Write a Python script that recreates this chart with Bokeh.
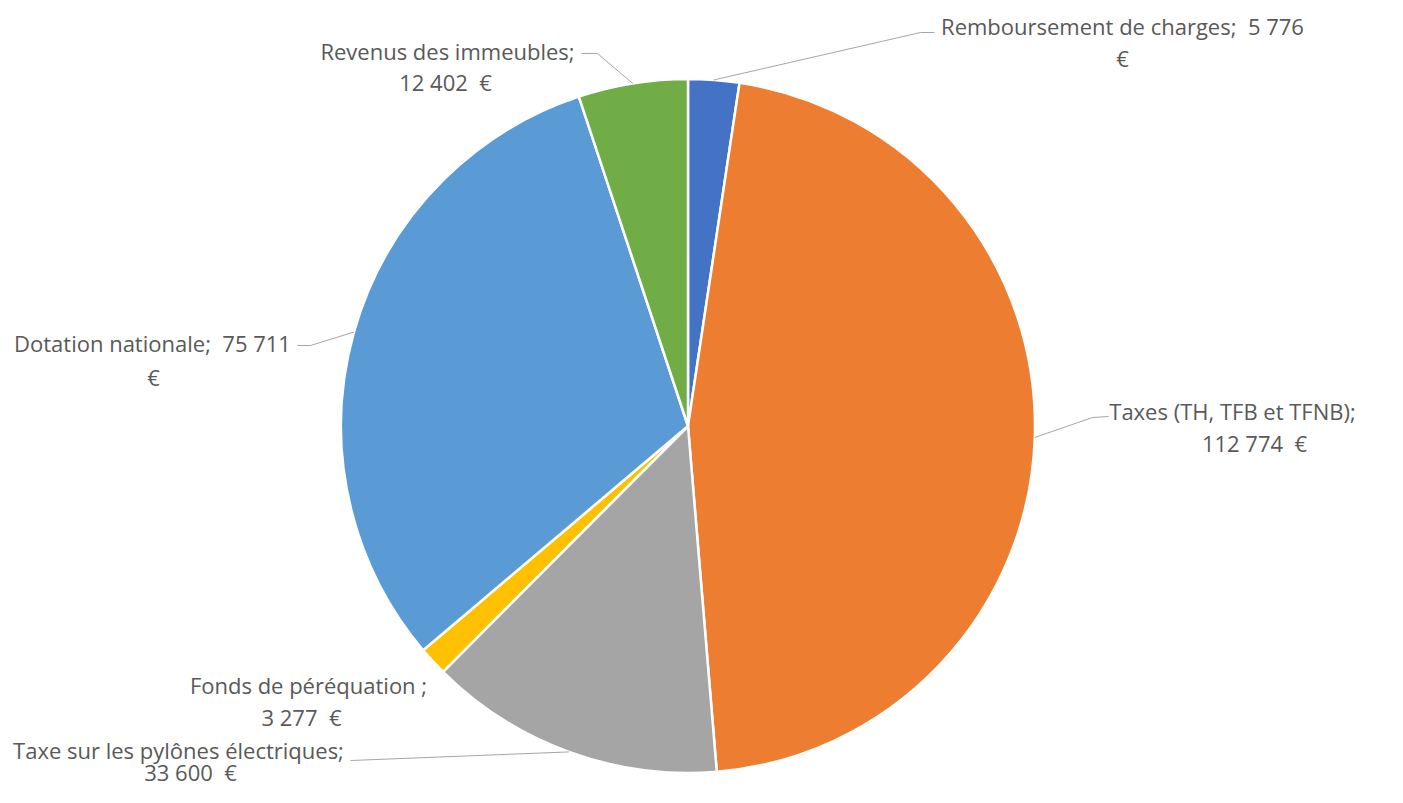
import numpy as np
from bokeh.plotting import figure
from bokeh.models import Range1d, ColumnDataSource
from bokeh.core.properties import value
from bokeh.embed import file_html
from bokeh.resources import INLINE

# ---- data ----
categories = ["Remboursement de charges", "Taxes (TH, TFB et TFNB)",
              "Taxe sur les pylônes électriques", "Fonds de péréquation ",
              "Dotation nationale", "Revenus des immeubles"]
amounts = [5776, 112774, 33600, 3277, 75711, 12402]
colors = ["#4472C4", "#ED7D31", "#A5A5A5", "#FFC000", "#5B9BD5", "#70AD47"]

NB = "\u00a0"
def fmt(v):
    return f"{v:,}".replace(",", " ")

# label texts: (first line, second line) - Excel wrapping
label_line1 = [f"{categories[0]};{NB} {fmt(amounts[0])}", f"{categories[1]};",
               f"{categories[2]};", f"{categories[3]};",
               f"{categories[4]};{NB} {fmt(amounts[4])}", f"{categories[5]};"]
label_line2 = ["€", f"{fmt(amounts[1])}{NB} €", f"{fmt(amounts[2])}{NB} €",
               f"{fmt(amounts[3])}{NB} €", "€", f"{fmt(amounts[5])}{NB} €"]

# ---- layout (picture pixel positions) ----
W, H = 1387, 787
def X(sx): return sx
def Y(sy): return H - sy

cx, cy, R = X(687.5), Y(425.5), 347.0
l1_pos = [(1122, 25), (1232, 410), (178, 749), (308, 684), (152, 342), (447, 50)]
l2_pos = [(1122, 57), (1254, 442), (190, 771), (301, 716), (153, 376), (445, 81)]
# leader lines: elbow points and end near label; None = no line
elbows = [[(920, 32), (934, 32)], [(1092, 417), (1108, 416)],
          [(350, 760), (350, 760)], None, [(310, 345), (297, 345)],
          [(597, 53), (581, 53)]]

p = figure(width=W, height=H, output_backend="svg", toolbar_location=None,
           x_range=Range1d(0, W), y_range=Range1d(0, H), min_border=0)
p.axis.visible = False
p.grid.visible = False
p.outline_line_color = None
p.background_fill_color = "white"
p.border_fill_color = "white"

vals = np.array(amounts, dtype=float)
frac = vals / vals.sum()
cum = np.concatenate([[0], np.cumsum(frac)])
start = np.pi / 2 - 2 * np.pi * cum[:-1]
end = np.pi / 2 - 2 * np.pi * cum[1:]
mid = (start + end) / 2

src = ColumnDataSource(dict(start=start, end=end, color=colors,
                            x=[cx] * len(vals), y=[cy] * len(vals)))
p.wedge(x="x", y="y", radius=R, start_angle="start", end_angle="end",
        direction="clock", fill_color="color", line_color="white",
        line_width=2.5, source=src)

# leader lines
for i, e in enumerate(elbows):
    if e is None:
        continue
    px = cx + R * np.cos(mid[i])
    py = cy + R * np.sin(mid[i])
    xs = [px] + [X(a) for a, b in e]
    ys = [py] + [Y(b) for a, b in e]
    p.line(xs, ys, line_color="#A6A6A6", line_width=1)

font = value("Open Sans")
p.text(x=[X(a) for a, b in l1_pos], y=[Y(b) for a, b in l1_pos], text=label_line1,
       text_font=font, text_font_size="22px", text_color="#595959",
       text_align="center", text_baseline="middle")
p.text(x=[X(a) for a, b in l2_pos], y=[Y(b) for a, b in l2_pos], text=label_line2,
       text_font=font, text_font_size="22px", text_color="#595959",
       text_align="center", text_baseline="middle")

open("out.html", "w").write(file_html(p, INLINE))
